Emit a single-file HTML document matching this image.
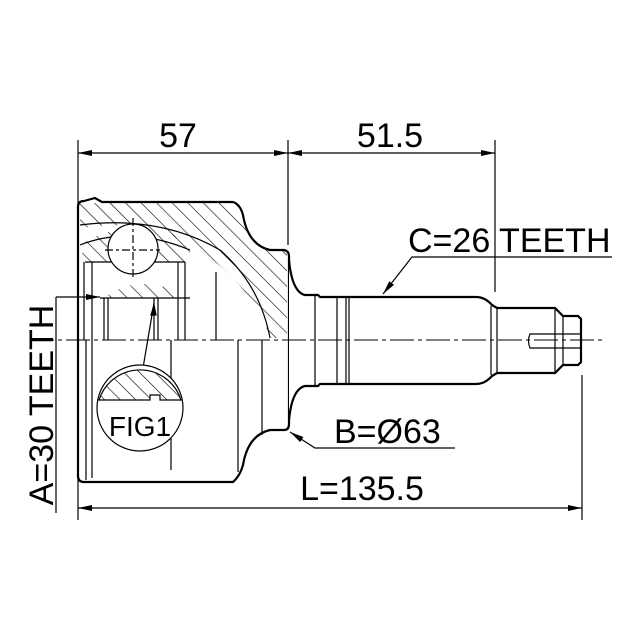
<!DOCTYPE html>
<html><head><style>body{margin:0;background:#fff}svg{display:block}</style></head><body>
<svg width="640" height="640" viewBox="0 0 640 640" xmlns="http://www.w3.org/2000/svg" font-family="Liberation Sans, sans-serif">
<defs>
<marker id="a" markerWidth="14" markerHeight="8" refX="14" refY="4" orient="auto" markerUnits="userSpaceOnUse"><path d="M0,1 L14,4 L0,7z" fill="#000"/></marker>
<pattern id="h" width="11" height="11" patternUnits="userSpaceOnUse" patternTransform="rotate(-45)"><line x1="0" y1="0" x2="0" y2="11" stroke="#000" stroke-width="1.2"/></pattern>
</defs>
<g stroke="#000" fill="none" stroke-width="1.2">
<line x1="78" y1="140" x2="78" y2="520"/>
<line x1="288" y1="140" x2="288" y2="245"/>
<line x1="495" y1="140" x2="495" y2="292"/>
<line x1="582" y1="375" x2="582" y2="520"/>
<line x1="56" y1="297" x2="56" y2="513"/>
<line x1="183" y1="153" x2="78" y2="153" marker-end="url(#a)"/>
<line x1="183" y1="153" x2="288" y2="153" marker-end="url(#a)"/>
<line x1="390" y1="153" x2="288" y2="153" marker-end="url(#a)"/>
<line x1="390" y1="153" x2="495" y2="153" marker-end="url(#a)"/>
<line x1="330" y1="508" x2="78" y2="508" marker-end="url(#a)"/>
<line x1="330" y1="508" x2="582" y2="508" marker-end="url(#a)"/>
<line x1="56" y1="297" x2="100" y2="297" marker-end="url(#a)"/>
<line x1="30" y1="340" x2="605" y2="340" stroke-dasharray="24,4,4,4" stroke-width="1"/>
<path d="M84,201 L95,198 L102,202 L233,202 Q240,204 243,215 Q248,245 270,250 L284,250 Q289,251 289,256 L289,424 Q289,430 284,430 L270,430 Q248,435 243,465 Q240,476 233,482 L84,482 Q78,482 78,476 L78,207 Q78,201 84,201z" stroke-width="2.2"/>
<path d="M80,203 L233,203 Q240,205 243,216 Q248,246 270,251 L287,251 L287,338 L270,338 Q255,290 200,250 Q160,225 110,225 L80,228z" fill="url(#h)" stroke="none"/>
<path d="M80,245 Q125,215 190,240 L190,262 L85,262z" fill="url(#h)" stroke="none"/>
<path d="M104,298 Q140,270 190,298z" fill="url(#h)" stroke="none"/>
<path d="M80,225 Q160,215 220,250 Q260,285 270,338" />
<path d="M80,245 Q130,225 190,250"/>
<line x1="85" y1="262" x2="185" y2="262"/>
<line x1="100" y1="298" x2="190" y2="298"/>
<circle cx="133" cy="249" r="25" fill="#fff"/>
<line x1="133" y1="218" x2="133" y2="280" stroke-dasharray="8,3,3,3"/>
<line x1="105" y1="250" x2="160" y2="250" stroke-dasharray="8,3,3,3"/>
<line x1="84" y1="262" x2="84" y2="340"/><line x1="92" y1="262" x2="92" y2="340"/>
<line x1="104" y1="298" x2="104" y2="340"/><line x1="108" y1="298" x2="108" y2="340"/>
<line x1="154" y1="298" x2="154" y2="340"/><line x1="158" y1="298" x2="158" y2="340"/>
<line x1="178" y1="262" x2="178" y2="340"/><line x1="185" y1="262" x2="185" y2="340"/>
<line x1="216" y1="272" x2="216" y2="340"/>
<line x1="86" y1="340" x2="86" y2="480"/><line x1="92" y1="340" x2="92" y2="478"/>
<line x1="171" y1="340" x2="171" y2="470"/>
<line x1="238" y1="340" x2="238" y2="472"/><line x1="262" y1="340" x2="262" y2="435"/>
<line x1="154" y1="303" x2="143" y2="368"/>
<path d="M154,305 l-3,10 l5,0z" fill="#000"/>
<circle cx="140" cy="408" r="43" fill="#fff"/>
<path d="M99,400 A43,43 0 0 1 181,400 L160,400 L160,395 L150,395 L150,400z" fill="url(#h)"/>
<path d="M289,260 Q292,292 305,295 L318,295 L320,297 L476,297 Q485,297 492,305 L497,308 L555,308 L563,316 L578,316 L581,319 L581,362 L578,365 L563,365 L555,373 L497,373 L492,376 Q485,384 476,384 L320,384 L318,386 L305,386 Q292,389 289,420" stroke-width="2.2" fill="#fff"/>
<line x1="315" y1="296" x2="315" y2="385"/><line x1="337" y1="297" x2="337" y2="384"/>
<line x1="346" y1="297" x2="346" y2="384"/><line x1="349" y1="297" x2="349" y2="384"/>
<line x1="491" y1="306" x2="491" y2="375"/><line x1="497" y1="308" x2="497" y2="373"/>
<line x1="555" y1="308" x2="555" y2="373"/><line x1="563" y1="316" x2="563" y2="365"/>
<path d="M581,334 L530,334 Q527,341 530,348 L581,348"/>
<line x1="30" y1="340" x2="605" y2="340" stroke-dasharray="24,4,4,4" stroke-width="1"/>
<polyline points="612,257 412,257 383,294" marker-end="url(#a)"/>
<polyline points="455,448 315,448 290,432" marker-end="url(#a)"/>
</g>
<g font-size="34" fill="#000">
<text x="178" y="147" text-anchor="middle">57</text>
<text x="390" y="147" text-anchor="middle">51.5</text>
<text x="408" y="252">C=26 TEETH</text>
<text x="334" y="443">B=Ø63</text>
<text x="362" y="500" text-anchor="middle">L=135.5</text>
<text x="0" y="0" transform="translate(53,405) rotate(-90)" text-anchor="middle">A=30 TEETH</text>
<text x="140" y="436" text-anchor="middle" font-size="28">FIG1</text>
</g>
</svg>
</body></html>
